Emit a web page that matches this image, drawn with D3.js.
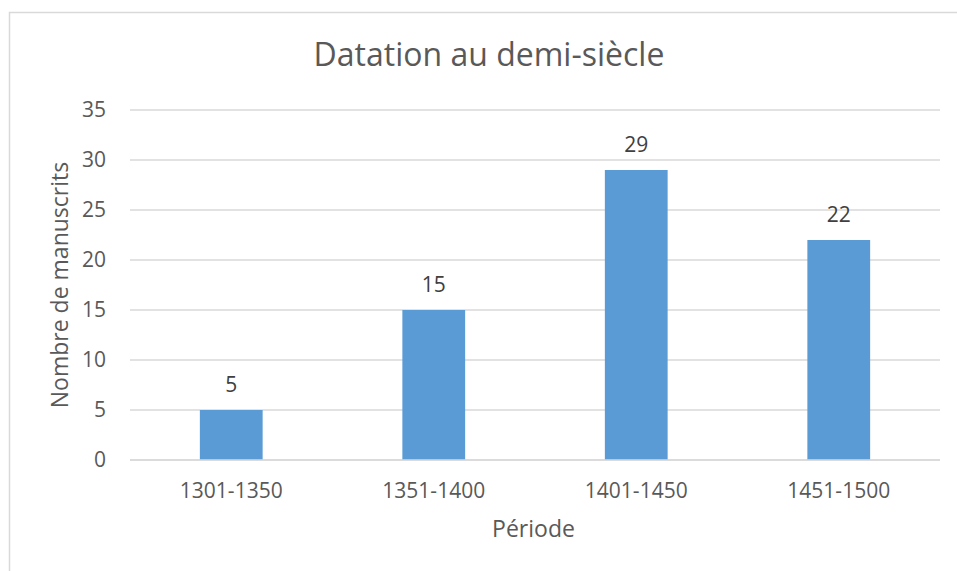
<!DOCTYPE html>
<html>
<head>
<meta charset="utf-8">
<script src="https://cdn.jsdelivr.net/npm/d3@7"></script>
<style>
  html, body { margin: 0; padding: 0; background: #fff; }
  svg { display: block; }
  text { font-family: "Open Sans", "Noto Sans", sans-serif; }
</style>
</head>
<body>
<svg id="chart" width="957" height="571"></svg>
<script>
const categories = ["1301-1350", "1351-1400", "1401-1450", "1451-1500"];
const values = [5, 15, 29, 22];
const yTicks = [0, 5, 10, 15, 20, 25, 30, 35];
const title = "Datation au demi-siècle";
const xTitle = "Période";
const yTitle = "Nombre de manuscrits";

const svg = d3.select("#chart");
const W = 957, H = 571;
const plot = { left: 130, right: 940, top: 110, bottom: 460 };

// chart frame
svg.append("rect")
  .attr("x", 9.5).attr("y", 12.5)
  .attr("width", W + 10).attr("height", H + 10)
  .attr("fill", "#fff").attr("stroke", "#d9d9d9").attr("stroke-width", 1.5);

const x = d3.scaleBand().domain(categories)
  .range([plot.left, plot.right]).paddingInner(0.69).paddingOuter(0.345);
const y = d3.scaleLinear().domain([0, 35]).range([plot.bottom, plot.top]);

// gridlines
svg.append("g").selectAll("line").data(yTicks).join("line")
  .attr("x1", plot.left).attr("x2", plot.right)
  .attr("y1", d => y(d)).attr("y2", d => y(d))
  .attr("stroke", "#d9d9d9").attr("stroke-width", 1.3);

// y axis labels
const yAxis = d3.axisLeft(y).tickValues(yTicks).tickSize(0).tickPadding(0);
const gy = svg.append("g").attr("transform", `translate(106,0)`).call(yAxis);
gy.select(".domain").remove();
gy.selectAll("text").attr("font-size", 21).attr("fill", "#595959")
  .attr("font-family", '"Open Sans", sans-serif');

// bars
svg.append("g").selectAll("rect").data(values).join("rect")
  .attr("x", (d, i) => x(categories[i]))
  .attr("width", x.bandwidth())
  .attr("y", d => y(d))
  .attr("height", d => y(0) - y(d))
  .attr("fill", "#5b9bd5");

// zero line on top
svg.append("line")
  .attr("x1", plot.left).attr("x2", plot.right)
  .attr("y1", y(0)).attr("y2", y(0))
  .attr("stroke", "#d9d9d9").attr("stroke-width", 1.5);

// data labels
svg.append("g").selectAll("text").data(values).join("text")
  .attr("x", (d, i) => x(categories[i]) + x.bandwidth() / 2)
  .attr("y", d => y(d) - 18)
  .attr("text-anchor", "middle")
  .attr("font-size", 21).attr("fill", "#404040")
  .text(d => d);

// x axis labels
const xAxis = d3.axisBottom(x).tickSize(0).tickPadding(0);
const gx = svg.append("g").attr("transform", `translate(0,${plot.bottom})`).call(xAxis);
gx.select(".domain").remove();
gx.selectAll("text").attr("font-size", 21).attr("fill", "#595959")
  .attr("dy", null).attr("y", 38)
  .attr("font-family", '"Open Sans", sans-serif');

// titles
svg.append("text").attr("x", 489).attr("y", 66)
  .attr("text-anchor", "middle").attr("font-size", 32).attr("fill", "#595959")
  .text(title);

svg.append("text").attr("x", (plot.left + plot.right) / 2 - 1.5).attr("y", 537)
  .attr("text-anchor", "middle").attr("font-size", 23).attr("fill", "#595959")
  .text(xTitle);

svg.append("text")
  .attr("transform", `translate(68,285) rotate(-90)`)
  .attr("text-anchor", "middle").attr("font-size", 23).attr("fill", "#595959")
  .text(yTitle);
</script>
</body>
</html>
